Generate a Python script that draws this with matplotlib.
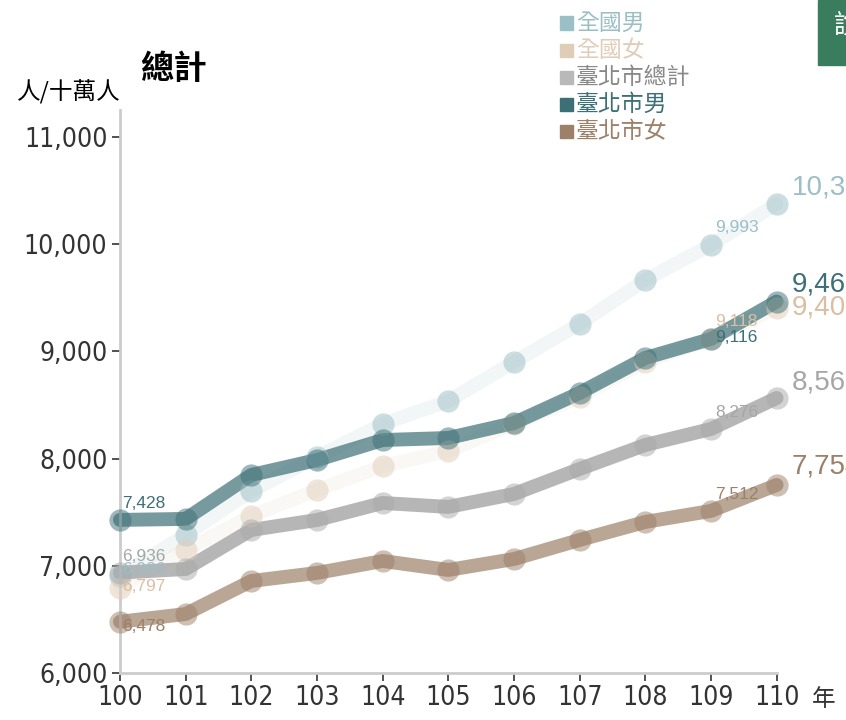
import matplotlib.pyplot as plt
import matplotlib.patches as patches
from matplotlib.ticker import FuncFormatter

plt.rcParams['font.family'] = ['Noto Sans CJK TC', 'DejaVu Sans']

# 人/十萬人, 民國年
years = [100, 101, 102, 103, 104, 105, 106, 107, 108, 109, 110]
nat_male = [6906, 7290, 7698, 8015, 8323, 8537, 8901, 9256, 9666, 9993, 10375]
nat_female = [6797, 7147, 7465, 7707, 7931, 8071, 8323, 8575, 8901, 9118, 9405]
tp_total = [6936, 6970, 7334, 7427, 7586, 7549, 7670, 7903, 8127, 8276, 8565]
tp_male = [7428, 7437, 7847, 7987, 8173, 8192, 8332, 8612, 8938, 9116, 9465]
tp_female = [6478, 6550, 6858, 6933, 7045, 6961, 7063, 7241, 7409, 7512, 7754]
names = ['全國男', '全國女', '臺北市總計', '臺北市男', '臺北市女']

series = [nat_male, nat_female, tp_total, tp_male, tp_female]
colors = ['#9bbfc6', '#e0cdb8', '#b9b9b9', '#3d6f76', '#9c8068']
line_colors = ['#9bbfc6', '#e0cdb8', '#a9a9a9', '#3d6f76', '#9c8068']
label_colors = ['#9bbfc6', '#d9bfa3', '#a6a6a6', '#3d6f76', '#9c8068']
line_alpha = [0.13, 0.13, 0.85, 0.7, 0.7]
# label offsets in px (first point, point 109, last point)
off_first = [6, 1, 16, 16, -5]
off_109 = [17, 17, 16, 1, 16]
off_last = [16, 0, 16, 17, 18]

fig = plt.figure(figsize=(8.46, 7.2), dpi=100)
ax = fig.add_axes([0.1418, 0.0653, 0.918 - 0.1418, 0.847 - 0.0653])
ax.set_xlim(100, 110)
ax.set_ylim(6000, 11250)

for s, c, lc, la in zip(series, colors, line_colors, line_alpha):
    ax.plot(years, s, color=lc, lw=10, alpha=la, solid_capstyle='round', clip_on=False, zorder=2)
    ax.plot(years, s, 'o', color=lc, ms=16, alpha=0.5, mec='none', clip_on=False, zorder=3)

px = 72 / 100
lab_font = ['Liberation Sans', 'DejaVu Sans']
for i, (s, c) in enumerate(zip(series, label_colors)):
    ax.annotate(f'{s[0]:,}', (years[0], s[0]), xytext=(2 * px, off_first[i] * px),
                textcoords='offset points', ha='left', va='center', fontsize=12.5,
                color=c, family=lab_font, zorder=5)
    ax.annotate(f'{s[9]:,}', (years[9], s[9]), xytext=(4 * px, off_109[i] * px),
                textcoords='offset points', ha='left', va='center', fontsize=12.5,
                color=c, family=lab_font, zorder=5)
    ax.annotate(f'{s[-1]:,}', (years[-1], s[-1]), xytext=(15 * px, off_last[i] * px),
                textcoords='offset points', ha='left', va='center', fontsize=20,
                color=c, family=lab_font, zorder=5, annotation_clip=False)

ax.set_xticks(years)
ax.set_yticks([6000, 7000, 8000, 9000, 10000, 11000])
ax.yaxis.set_major_formatter(FuncFormatter(lambda v, p: f'{int(v):,}'))
ax.tick_params(labelsize=19, colors='#333333', length=6, width=1.2, pad=3)
for lab in ax.get_xticklabels() + ax.get_yticklabels():
    lab.set_family('DejaVu Sans')
    lab.set_stretch('condensed')
for sp in ['top', 'right']:
    ax.spines[sp].set_visible(False)
for sp in ['left', 'bottom']:
    ax.spines[sp].set_color('#cccccc')
    ax.spines[sp].set_linewidth(2)

W, H = 846, 720
fig.text(140 / W, 1 - 70 / H, '總計', fontsize=24, fontweight='bold', va='center', ha='left')
fig.text(17 / W, 1 - 92 / H, '人/十萬人', fontsize=17, va='center', ha='left')
fig.text(812 / W, 1 - 699 / H, '年', fontsize=17, va='center', ha='left', color='#333333')

# legend
for i, (n, c) in enumerate(zip(names, colors)):
    y = 1 - (23 + 27.2 * i) / H
    fig.patches.append(patches.Rectangle((560 / W, y - 6.5 / H), 13 / W, 13 / H, color=c,
                                         transform=fig.transFigure, figure=fig))
    fig.text(576 / W, y, n, fontsize=16.5, color=c if i != 2 else '#888888', va='center', ha='left')

# green button at top-right corner
fig.patches.append(patches.Rectangle((818 / W, 1 - 65 / H), 30 / W, 65 / H, color='#3a7d5e',
                                     transform=fig.transFigure, figure=fig))
fig.text(834 / W, 1 - 25 / H, '說', fontsize=19, color='white', va='center', ha='left')

plt.savefig('out.png', dpi=100)
